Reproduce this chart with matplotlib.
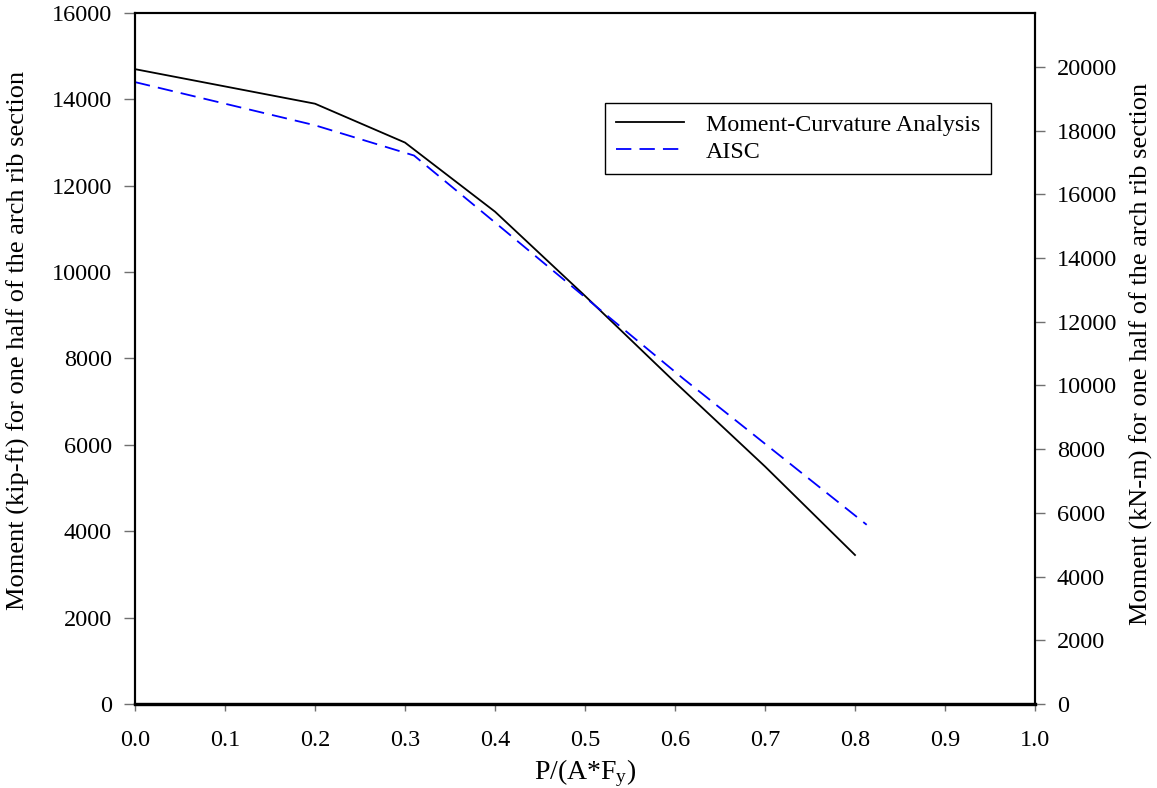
import matplotlib
matplotlib.use("Agg")
import matplotlib.pyplot as plt

plt.rcParams['font.family'] = ['Liberation Serif', 'DejaVu Serif']
plt.rcParams['mathtext.fontset'] = 'custom'
plt.rcParams['mathtext.rm'] = 'Liberation Serif'
plt.rcParams['mathtext.it'] = 'Liberation Serif'

# Data
mc_x = [0.0, 0.2, 0.3, 0.4, 0.5, 0.6, 0.7, 0.8]
mc_y = [14700, 13900, 13000, 11400, 9450, 7450, 5500, 3450]
aisc_x = [0.0, 0.2, 0.31, 0.4, 0.53, 0.61, 0.813]
aisc_y = [14400, 13400, 12700, 11150, 8900, 7520, 4150]
x_ticks = [0.0, 0.1, 0.2, 0.3, 0.4, 0.5, 0.6, 0.7, 0.8, 0.9, 1.0]
left_ticks = list(range(0, 16001, 2000))
right_ticks = list(range(0, 20001, 2000))
kipft_to_knm = 1.3558

TICK_FS = 17.5
LABEL_FS = 20
YLABEL_FS = 19
TICK_COLOR = '#707070'

fig = plt.figure(figsize=(11.57, 7.88), dpi=100)
ax = fig.add_axes([135/1157, 1-704/788, 900/1157, 691/788])

ax.plot(mc_x, mc_y, color='black', lw=1.3, label='Moment-Curvature Analysis')
ax.plot(aisc_x, aisc_y, color='#0000ff', lw=1.3, dashes=(8.5, 4.5), label='AISC')

ax.set_xlim(0, 1.0)
ax.set_ylim(0, 16000)
ax.set_xticks(x_ticks)
ax.set_xticklabels([f"{v:.1f}" for v in x_ticks])
ax.set_yticks(left_ticks)
ax.tick_params(axis='x', direction='out', length=5, width=1, color=TICK_COLOR,
               labelsize=TICK_FS, pad=14)
ax.tick_params(axis='y', direction='out', length=8, width=1, color=TICK_COLOR,
               labelsize=TICK_FS, pad=8.6)
for s in ax.spines.values():
    s.set_linewidth(1.5)
ax.spines['bottom'].set_linewidth(2.3)

ax.set_xlabel(r'P/(A*F$_\mathregular{y}$)', fontsize=LABEL_FS)
ax.xaxis.set_label_coords(0.5, (704-757)/691)
ax.set_ylabel('Moment (kip-ft) for one half of the arch rib section', fontsize=YLABEL_FS)
ax.yaxis.set_label_coords((30-135)/900, (704-340)/691)

ax2 = ax.twinx()
ax2.set_ylim(0, 16000*kipft_to_knm)
ax2.set_yticks(right_ticks)
ax2.tick_params(axis='y', direction='out', length=7.2, width=1, color=TICK_COLOR,
                labelsize=TICK_FS, pad=8.6)
ax2.set_ylabel('Moment (kN-m) for one half of the arch rib section', fontsize=YLABEL_FS,
               rotation=90)
ax2.yaxis.set_label_coords((1130-135)/900, (704-354)/691)
for s in ax2.spines.values():
    s.set_linewidth(1.5)
ax2.spines['bottom'].set_linewidth(2.3)

leg = ax.legend(loc='upper left', bbox_to_anchor=((605-135)/900, (704-103)/691),
                fontsize=17.3, frameon=True, fancybox=False, edgecolor='black',
                handlelength=2.85, borderpad=0.45, labelspacing=0.22, handletextpad=0.9,
                borderaxespad=0)
leg.get_frame().set_linewidth(1.0)
leg.get_frame().set_alpha(1)

fig.savefig('out.png', dpi=100)
